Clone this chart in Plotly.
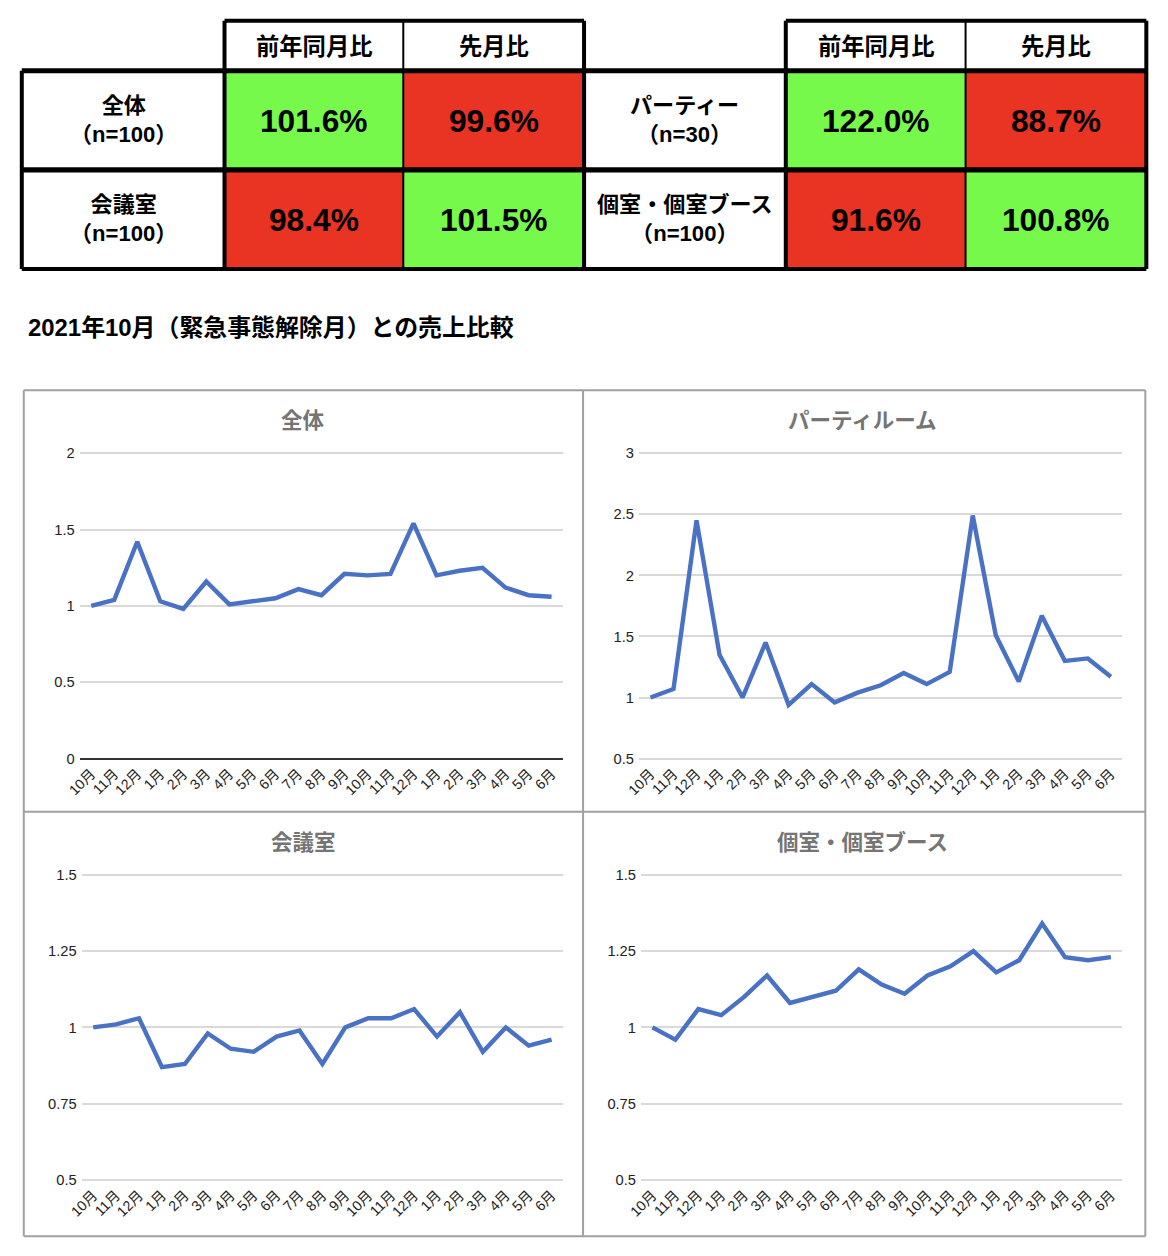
import plotly.graph_objects as go

W, H = 1168, 1256

# The photographed page shows the figure slightly shifted/scaled
# (body margin + capture scaling); layout positions below are given in
# target-picture pixels and converted to figure paper coordinates.
S_X, S_Y = 0.9893, 0.9877
C_X, C_Y = 12.2, 7.3
K = 1 / 0.988  # size compensation for fonts / line widths

# ---------------- data ----------------
months = ["10月", "11月", "12月", "1月", "2月", "3月", "4月", "5月", "6月", "7月", "8月",
          "9月", "10月", "11月", "12月", "1月", "2月", "3月", "4月", "5月", "6月"]

zentai = [1.00, 1.04, 1.42, 1.03, 0.98, 1.16, 1.01, 1.03, 1.05, 1.11, 1.07,
          1.21, 1.20, 1.21, 1.54, 1.20, 1.23, 1.25, 1.12, 1.07, 1.06]
party = [1.00, 1.07, 2.45, 1.35, 1.00, 1.45, 0.94, 1.11, 0.96, 1.04, 1.10,
         1.20, 1.11, 1.21, 2.49, 1.51, 1.13, 1.67, 1.30, 1.32, 1.17]
kaigi = [1.00, 1.01, 1.03, 0.87, 0.88, 0.98, 0.93, 0.92, 0.97, 0.99, 0.88,
         1.00, 1.03, 1.03, 1.06, 0.97, 1.05, 0.92, 1.00, 0.94, 0.96]
koshitsu = [1.00, 0.96, 1.06, 1.04, 1.10, 1.17, 1.08, 1.10, 1.12, 1.19, 1.14,
            1.11, 1.17, 1.20, 1.25, 1.18, 1.22, 1.34, 1.23, 1.22, 1.23]

chart_titles = ["全体", "パーティルーム", "会議室", "個室・個室ブース"]

table_headers = ["前年同月比", "先月比"]
left_labels = ["全体<br>（n=100）", "会議室<br>（n=100）"]
left_yoy = [101.6, 98.4]
left_mom = [99.6, 101.5]
right_labels = ["パーティー<br>（n=30）", "個室・個室ブース<br>（n=100）"]
right_yoy = [122.0, 91.6]
right_mom = [88.7, 100.8]

section_title = "2021年10月（緊急事態解除月）との売上比較"

# ---------------- style ----------------
GREEN = "#77f94c"
RED = "#e93323"
LINE = "#4a72c4"
GRID = "#d9d9d9"
PANEL = "#a0a0a0"
CJK = "Liberation Sans, Noto Sans CJK JP, sans-serif"


def px(x):
    return ((x - C_X) / S_X) / W


def py(y):
    return 1 - ((y - C_Y) / S_Y) / H


def fs(v):
    return round(v * K, 1)


fig = go.Figure()
shapes = []
annotations = []

# ---------------- table ----------------
col_edges_left = [20, 223, 402, 583]
col_edges_right = [583, 785, 965, 1146]
row_edges = [21, 71, 170, 269]


def rect(x0, y0, x1, y1, fill):
    return dict(type="rect", xref="paper", yref="paper",
                x0=px(x0), x1=px(x1), y0=py(y1), y1=py(y0), layer="above",
                fillcolor=fill, line=dict(color="rgba(0,0,0,0)", width=0))


def line(x0, y0, x1, y1, width, color="black", layer="above"):
    return dict(type="line", xref="paper", yref="paper",
                x0=px(x0), x1=px(x1), y0=py(y0), y1=py(y1),
                line=dict(color=color, width=fs(width)), layer=layer)


def text(x, y, s, size, bold=True, color="black", xanchor="center"):
    return dict(x=px(x), y=py(y), xref="paper", yref="paper", text=("<b>%s</b>" % s) if bold else s,
                showarrow=False, xanchor=xanchor, yanchor="middle",
                font=dict(size=fs(size), color=color, family=CJK))


for edges, labels, yoy, mom in [(col_edges_left, left_labels, left_yoy, left_mom),
                                (col_edges_right, right_labels, right_yoy, right_mom)]:
    for r in range(2):
        y0, y1 = row_edges[r + 1], row_edges[r + 2]
        for c, vals in enumerate([yoy, mom]):
            x0, x1 = edges[c + 1], edges[c + 2]
            v = vals[r]
            shapes.append(rect(x0, y0, x1, y1, GREEN if v >= 100 else RED))
            annotations.append(text((x0 + x1) / 2, (y0 + y1) / 2 + 1, "%.1f%%" % v, 31.3))
        annotations.append(text((edges[0] + edges[1]) / 2, (y0 + y1) / 2, labels[r], 21.8))
    for c in range(2):
        x0, x1 = edges[c + 1], edges[c + 2]
        annotations.append(text((x0 + x1) / 2, (row_edges[0] + row_edges[1]) / 2 + 1, table_headers[c], 23))
    shapes.append(line(edges[1], row_edges[0], edges[3], row_edges[0], 4))
    shapes.append(line(edges[1], row_edges[0], edges[1], row_edges[3], 4))
    shapes.append(line(edges[3], row_edges[0], edges[3], row_edges[3], 4))
    shapes.append(line(edges[2], row_edges[0], edges[2], row_edges[3], 2))
    shapes.append(line(edges[0], row_edges[1], edges[3], row_edges[1], 5))
    shapes.append(line(edges[0], row_edges[2], edges[3], row_edges[2], 5))
    shapes.append(line(edges[0], row_edges[3], edges[3], row_edges[3], 4))
    shapes.append(line(edges[0], row_edges[1], edges[0], row_edges[3], 4))

annotations.append(text(24, 327, section_title, 23.6, xanchor="left"))

# ---------------- charts ----------------
series = [zentai, party, kaigi, koshitsu]
plot_x = [(78, 562), (638, 1122), (80, 562), (640, 1122)]
plot_y = [(453, 758), (453, 758), (874, 1179), (874, 1179)]
yranges = [(0, 2), (0.5, 3), (0.5, 1.5), (0.5, 1.5)]
yticks = [[0, 0.5, 1, 1.5, 2], [0.5, 1, 1.5, 2, 2.5, 3],
          [0.5, 0.75, 1, 1.25, 1.5], [0.5, 0.75, 1, 1.25, 1.5]]
title_pos = [(302, 421), (862, 421), (302, 842), (862, 842)]

xs = list(range(len(months)))

for i in range(4):
    n = "" if i == 0 else str(i + 1)
    fig.add_trace(go.Scatter(x=xs, y=series[i], mode="lines", xaxis="x" + n, yaxis="y" + n,
                             line=dict(color=LINE, width=fs(4.3)), showlegend=False, hoverinfo="skip"))
    lo, hi = yranges[i]
    pad = (hi - lo) * 0.004
    top_px = plot_y[i][0] - (plot_y[i][1] - plot_y[i][0]) * 0.004
    bot_px = plot_y[i][1] + (plot_y[i][1] - plot_y[i][0]) * 0.004
    xa = dict(domain=[px(plot_x[i][0]), px(plot_x[i][1])], anchor="y" + n,
              range=[-0.5, len(months) - 0.5], tickmode="array", tickvals=xs, ticktext=months,
              tickangle=-45, showgrid=False, zeroline=False, showline=False, ticks="",
              ticklabelstandoff=2,
              tickfont=dict(size=fs(14), color="#222", family=CJK), fixedrange=True)
    ya = dict(domain=[py(bot_px), py(top_px)], anchor="x" + n,
              range=[lo - pad, hi + pad], tickmode="array", tickvals=yticks[i],
              ticktext=["%g" % v for v in yticks[i]], showgrid=True, gridcolor=GRID, gridwidth=1.5,
              zeroline=(i == 0), zerolinecolor="#333", zerolinewidth=1.5, showline=False, ticks="",
              ticklabelstandoff=4,
              tickfont=dict(size=fs(14.5), color="#222", family=CJK), fixedrange=True)
    fig.layout["xaxis" + n] = xa
    fig.layout["yaxis" + n] = ya
    annotations.append(text(title_pos[i][0], title_pos[i][1], chart_titles[i], 21.2, color="#757575"))

# panel borders
for (x0, y0, x1, y1) in [(22, 390, 1145, 390), (22, 1235, 1145, 1235), (22, 390, 22, 1235),
                         (1145, 390, 1145, 1235), (582, 390, 582, 1235), (22, 811, 1145, 811)]:
    shapes.append(line(x0, y0, x1, y1, 2, color=PANEL, layer="below"))

fig.update_layout(width=W, height=H, margin=dict(l=0, r=0, t=0, b=0),
                  paper_bgcolor="white", plot_bgcolor="white",
                  shapes=shapes, annotations=annotations, showlegend=False,
                  font=dict(family=CJK))

fig.write_html("out.html", config={"displayModeBar": False})
